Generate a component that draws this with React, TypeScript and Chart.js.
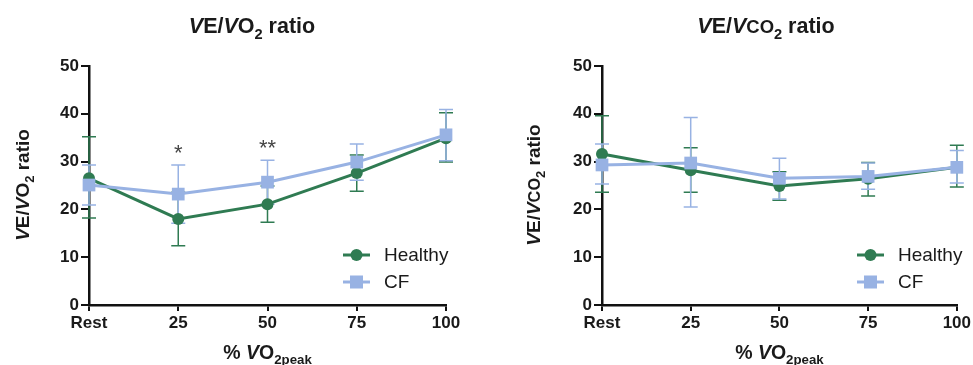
import React, { useEffect, useRef } from "react";
import { Chart, registerables } from "chart.js";

Chart.register(...registerables);

// ---------- DATA ----------
const categories = ["Rest", "25", "50", "75", "100"];

const o2Healthy = [26.5, 18.0, 21.1, 27.6, 34.9];
const o2HealthyLow = [18.2, 12.4, 17.3, 23.8, 29.9];
const o2HealthyHigh = [35.2, 23.6, 24.9, 31.4, 40.2];
const o2CF = [25.1, 23.2, 25.7, 29.9, 35.6];
const o2CFLow = [20.9, 17.1, 21.1, 26.1, 30.2];
const o2CFHigh = [29.3, 29.3, 30.3, 33.7, 40.9];
const o2Sig = ["", "*", "**", "", ""];

const co2Healthy = [31.6, 28.2, 24.9, 26.4, 28.8];
const co2HealthyLow = [23.6, 23.6, 21.9, 22.8, 24.7];
const co2HealthyHigh = [39.6, 32.9, 27.9, 29.8, 33.4];
const co2CF = [29.3, 29.7, 26.5, 26.9, 28.8];
const co2CFLow = [25.3, 20.5, 22.2, 24.2, 25.5];
const co2CFHigh = [33.7, 39.2, 30.7, 29.7, 32.3];
const co2Sig = ["", "", "", "", ""];

const yTicks = [0, 10, 20, 30, 40, 50];
const seriesNames = ["Healthy", "CF"];

const GREEN = "#2f7b52";
const BLUE = "#98b2e3";
const FONT = "'Liberation Sans', Arial, sans-serif";

type Seg = { t: string; i?: boolean; sub?: boolean; small?: boolean };

function segFont(s: Seg, size: number, bold: boolean) {
  let sz = size;
  if (s.sub) sz = size * 0.68;
  else if (s.small) sz = size * 0.86;
  return `${s.i ? "italic " : ""}${bold ? "bold " : ""}${sz}px ${FONT}`;
}

function drawRich(ctx: CanvasRenderingContext2D, segs: Seg[], cx: number, baseline: number, size: number, bold = true) {
  let total = 0;
  for (const s of segs) {
    ctx.font = segFont(s, size, bold);
    total += ctx.measureText(s.t).width;
  }
  let x = cx - total / 2;
  ctx.textAlign = "left";
  ctx.textBaseline = "alphabetic";
  for (const s of segs) {
    ctx.font = segFont(s, size, bold);
    const y = s.sub ? baseline + size * 0.28 : baseline;
    ctx.fillText(s.t, x, y);
    x += ctx.measureText(s.t).width;
  }
}

const errorBarPlugin = {
  id: "errorBars",
  beforeDatasetsDraw(chart: any) {
    const ctx = chart.ctx;
    const y = chart.scales.y;
    chart.data.datasets.forEach((ds: any, di: number) => {
      const meta = chart.getDatasetMeta(di);
      ctx.save();
      ctx.strokeStyle = ds.borderColor;
      ctx.lineWidth = 1.5;
      meta.data.forEach((pt: any, i: number) => {
        const x = pt.x;
        const yl = y.getPixelForValue(ds.errLow[i]);
        const yh = y.getPixelForValue(ds.errHigh[i]);
        ctx.beginPath();
        ctx.moveTo(x, yl);
        ctx.lineTo(x, yh);
        ctx.moveTo(x - 7, yl);
        ctx.lineTo(x + 7, yl);
        ctx.moveTo(x - 7, yh);
        ctx.lineTo(x + 7, yh);
        ctx.stroke();
      });
      ctx.restore();
    });
  },
};

const decorPlugin = {
  id: "decor",
  afterDraw(chart: any) {
    const o = chart.options.plugins.decor;
    const ctx = chart.ctx;
    const area = chart.chartArea;
    const xs = chart.scales.x;
    const ys = chart.scales.y;
    ctx.save();
    ctx.fillStyle = "#1a1a1a";
    // title
    drawRich(ctx, o.title, o.titleX, 33, 21.5, true);
    // x title
    drawRich(ctx, o.xTitle, (area.left + area.right) / 2, 359, 19.5, true);
    // y title
    ctx.save();
    ctx.translate(o.yTitleX, 185);
    ctx.rotate(-Math.PI / 2);
    drawRich(ctx, o.title, 0, 0, 19, true);
    ctx.restore();
    // significance marks
    ctx.fillStyle = "#444";
    ctx.font = `22px ${FONT}`;
    ctx.textAlign = "center";
    ctx.textBaseline = "middle";
    o.sig.forEach((s: string, i: number) => {
      if (!s) return;
      const top = Math.max(...chart.data.datasets.map((d: any) => d.errHigh[i]));
      const px = xs.getPixelForValue(i);
      const py = ys.getPixelForValue(top + 3.4);
      ctx.fillText(s, px, py + 5);
    });
    // legend
    const lx = o.legendX;
    const rows = [255, 282];
    chart.data.datasets.forEach((ds: any, di: number) => {
      const ly = rows[di];
      ctx.strokeStyle = ds.borderColor;
      ctx.fillStyle = ds.borderColor;
      ctx.lineWidth = 3;
      ctx.beginPath();
      ctx.moveTo(lx, ly);
      ctx.lineTo(lx + 27, ly);
      ctx.stroke();
      const mx = lx + 13.5;
      if (ds.pointStyle === "circle") {
        ctx.beginPath();
        ctx.arc(mx, ly, 6, 0, Math.PI * 2);
        ctx.fill();
      } else {
        ctx.fillRect(mx - 6.5, ly - 6.5, 13, 13);
      }
      ctx.fillStyle = "#1a1a1a";
      ctx.font = `19px ${FONT}`;
      ctx.textAlign = "left";
      ctx.textBaseline = "middle";
      ctx.fillText(ds.label, lx + 41, ly + 1);
    });
    ctx.restore();
  },
};

function makeConfig(p: {
  healthy: number[]; hLow: number[]; hHigh: number[];
  cf: number[]; cLow: number[]; cHigh: number[];
  sig: string[]; title: Seg[]; titleX: number; yTitleX: number; legendX: number;
  yWidth: number; padRight: number;
}): any {
  return {
    type: "line",
    data: {
      labels: categories,
      datasets: [
        {
          label: seriesNames[0],
          data: p.healthy,
          errLow: p.hLow,
          errHigh: p.hHigh,
          borderColor: GREEN,
          backgroundColor: GREEN,
          borderWidth: 3,
          pointStyle: "circle",
          pointRadius: 6,
          pointBorderWidth: 0,
          clip: false,
          order: 1,
        },
        {
          label: seriesNames[1],
          data: p.cf,
          errLow: p.cLow,
          errHigh: p.cHigh,
          borderColor: BLUE,
          backgroundColor: BLUE,
          borderWidth: 3,
          pointStyle: "rect",
          pointRadius: 9,
          pointBorderWidth: 0,
          clip: false,
          order: 0,
        },
      ],
    },
    options: {
      responsive: false,
      animation: false,
      devicePixelRatio: 1,
      layout: { padding: { left: 0, top: 66, right: p.padRight, bottom: 0 } },
      plugins: {
        legend: { display: false },
        tooltip: { enabled: false },
        decor: { title: p.title, titleX: p.titleX, yTitleX: p.yTitleX, legendX: p.legendX, sig: p.sig, xTitle: [{ t: "% " }, { t: "V", i: true }, { t: "O" }, { t: "2peak", sub: true }] },
      },
      scales: {
        x: {
          type: "category",
          offset: false,
          afterFit: (s: any) => { s.height = 60; },
          grid: { display: true, drawOnChartArea: false, tickLength: 6, color: "#111", lineWidth: 2 },
          border: { display: true, color: "#111", width: 2.5 },
          ticks: { color: "#1a1a1a", font: { family: FONT, size: 17, weight: "bold" }, padding: 2, maxRotation: 0, autoSkip: false },
        },
        y: {
          min: 0,
          max: 50,
          afterFit: (s: any) => { s.width = p.yWidth; },
          afterBuildTicks: (s: any) => { s.ticks = yTicks.map((v) => ({ value: v })); },
          grid: { display: true, drawOnChartArea: false, tickLength: 8, color: "#111", lineWidth: 2 },
          border: { display: true, color: "#111", width: 2.5 },
          ticks: { color: "#1a1a1a", font: { family: FONT, size: 17, weight: "bold" }, padding: 2 },
        },
      },
    },
    plugins: [errorBarPlugin, decorPlugin],
  };
}

function ChartCanvas({ config, width, left }: { config: any; width: number; left: number }) {
  const ref = useRef<HTMLCanvasElement>(null);
  useEffect(() => {
    if (!ref.current) return;
    const c = new Chart(ref.current, config);
    return () => c.destroy();
  }, []);
  return (
    <canvas
      ref={ref}
      width={width}
      height={365}
      style={{ position: "absolute", left, top: 0, width, height: 365 }}
    />
  );
}

export default function App() {
  const left = makeConfig({
    healthy: o2Healthy, hLow: o2HealthyLow, hHigh: o2HealthyHigh,
    cf: o2CF, cLow: o2CFLow, cHigh: o2CFHigh, sig: o2Sig,
    title: [{ t: "V", i: true }, { t: "E/" }, { t: "V", i: true }, { t: "O" }, { t: "2", sub: true }, { t: " ratio" }],
    titleX: 252, yTitleX: 29, legendX: 343, yWidth: 89, padRight: 40,
  });
  const right = makeConfig({
    healthy: co2Healthy, hLow: co2HealthyLow, hHigh: co2HealthyHigh,
    cf: co2CF, cLow: co2CFLow, cHigh: co2CFHigh, sig: co2Sig,
    title: [{ t: "V", i: true }, { t: "E/" }, { t: "V", i: true }, { t: "CO", small: true }, { t: "2", sub: true }, { t: " ratio" }],
    titleX: 280, yTitleX: 54, legendX: 371, yWidth: 116, padRight: 14,
  });
  return (
    <div style={{ position: "absolute", left: 0, top: 0, width: 973, height: 365, background: "#fff", overflow: "hidden" }}>
      <ChartCanvas config={left} width={486} left={0} />
      <ChartCanvas config={right} width={487} left={486} />
    </div>
  );
}
